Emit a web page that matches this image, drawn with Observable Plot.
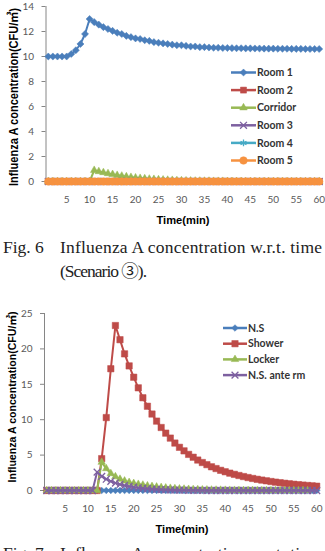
<!DOCTYPE html>
<html>
<head>
<meta charset="utf-8">
<script src="https://cdn.jsdelivr.net/npm/d3@7"></script>
<script src="https://cdn.jsdelivr.net/npm/@observablehq/plot@0.6"></script>
<style>
  html, body { margin: 0; padding: 0; background: #fff; }
  body { width: 325px; height: 551px; overflow: hidden; position: relative; }
  .panel { position: absolute; left: 0; display: block; }
</style>
</head>
<body>
<div id="fig6" class="panel" style="top:0px"></div>
<svg id="cap6" class="panel" style="top:232px" width="325" height="56"></svg>
<div id="fig7" class="panel" style="top:290px"></div>
<svg id="cap7" class="panel" style="top:540px" width="325" height="30"></svg>
<script>
// Time axis categories (minutes) and tick labels
const minutes = [1,2,3,4,5,6,7,8,9,10,11,12,13,14,15,16,17,18,19,20,
  21,22,23,24,25,26,27,28,29,30,31,32,33,34,35,36,37,38,39,40,
  41,42,43,44,45,46,47,48,49,50,51,52,53,54,55,56,57,58,59,60];
const timeTicks = [5,10,15,20,25,30,35,40,45,50,55,60];

// Fig. 6 — Scenario 3 concentrations (CFU/m3)
const fig6Ticks = [0,2,4,6,8,10,12,14];
const room1 = [10.0,10.0,10.0,10.0,10.0,10.2,10.5,11.0,11.8,13.0,
  12.75,12.55,12.35,12.2,12.05,11.9,11.8,11.65,11.55,11.45,
  11.4,11.3,11.25,11.15,11.1,11.05,11.0,10.95,10.9,10.9,
  10.85,10.8,10.8,10.75,10.75,10.72,10.7,10.7,10.68,10.68,
  10.67,10.66,10.66,10.65,10.65,10.64,10.64,10.63,10.63,10.63,
  10.62,10.62,10.62,10.61,10.61,10.61,10.6,10.6,10.6,10.6];
const room2 = [0,0,0,0,0,0,0,0,0,0,0,0,0,0,0,0,0,0,0,0,
  0,0,0,0,0,0,0,0,0,0,0,0,0,0,0,0,0,0,0,0,0,0,0,0,0,0,0,0,0,0,0,0,0,0,0,0,0,0,0,0];
const corridor = [0,0,0,0,0,0,0,0,0,0,
  0.9,0.8,0.72,0.64,0.57,0.5,0.44,0.39,0.34,0.3,
  0.26,0.23,0.2,0.18,0.15,0.13,0.11,0.1,0.08,0.07,
  0.06,0.05,0.04,0.04,0.03,0.03,0.02,0.02,0.02,0.01,
  0.01,0.01,0.01,0,0,0,0,0,0,0,0,0,0,0,0,0,0,0,0,0];
const room3 = [0,0,0,0,0,0,0,0,0,0,0,0,0,0,0,0,0,0,0,0,
  0,0,0,0,0,0,0,0,0,0,0,0,0,0,0,0,0,0,0,0,0,0,0,0,0,0,0,0,0,0,0,0,0,0,0,0,0,0,0,0];
const room4 = [0,0,0,0,0,0,0,0,0,0,0,0,0,0,0,0,0,0,0,0,
  0,0,0,0,0,0,0,0,0,0,0,0,0,0,0,0,0,0,0,0,0,0,0,0,0,0,0,0,0,0,0,0,0,0,0,0,0,0,0,0];
const room5 = [0,0,0,0,0,0,0,0,0,0,0,0,0,0,0,0,0,0,0,0,
  0,0,0,0,0,0,0,0,0,0,0,0,0,0,0,0,0,0,0,0,0,0,0,0,0,0,0,0,0,0,0,0,0,0,0,0,0,0,0,0];
const fig6Names = ["Room 1","Room 2","Corridor","Room 3","Room 4","Room 5"];

// Fig. 7 — shower area concentrations (CFU/m3)
const fig7Ticks = [0,5,10,15,20,25];
const ns = [0,0,0,0,0,0,0,0,0,0,0,0,0,0,0,0,0,0,0,0,
  0,0,0,0,0,0,0,0,0,0,0,0,0,0,0,0,0,0,0,0,0,0,0,0,0,0,0,0,0,0,0,0,0,0,0,0,0,0,0,0];
const shower = [0,0,0,0,0,0,0,0,0,0,0,0,
  4.5,10.3,17.2,23.3,21.3,19.3,17.6,16.0,14.5,13.1,
  11.9,10.8,9.8,8.9,8.1,7.4,6.7,6.1,5.6,5.1,
  4.7,4.3,3.95,3.65,3.35,3.1,2.85,2.65,2.45,2.28,
  2.12,1.97,1.83,1.7,1.58,1.47,1.37,1.27,1.18,1.1,
  1.02,0.95,0.88,0.82,0.76,0.71,0.66,0.61];
const locker = [0,0,0,0,0,0,0,0,0,0,0,0,
  4.0,3.1,2.4,1.95,1.6,1.35,1.15,1.0,0.88,0.77,
  0.67,0.58,0.5,0.43,0.37,0.32,0.27,0.23,0.2,0.17,
  0.14,0.12,0.1,0.08,0.07,0.06,0.05,0.04,0.03,0.03,
  0.02,0.02,0.01,0.01,0,0,0,0,0,0,0,0,0,0,0,0];
const nsAnte = [0,0,0,0,0,0,0,0,0,0,0,
  2.6,2.0,1.6,1.3,1.05,0.85,0.7,0.57,0.47,0.38,
  0.31,0.25,0.2,0.16,0.13,0.1,0.08,0.06,0.05,0.04,
  0.03,0.02,0.02,0.01,0,0,0,0,0,0,0,0,0,0,0,
  0,0,0,0,0,0,0,0,0,0,0,0,0,0];
const fig7Names = ["N.S","Shower","Locker","N.S. ante rm"];

// Office-style palette and markers
const palette = {
  blue: "#4A7EBB", red: "#BE4B48", green: "#98B954",
  purple: "#7D60A0", aqua: "#46AAC5", orange: "#F69240"
};
const axisGray = "#868686";
const labelGray = "#595959";

const symbolTypes = {
  diamond2: d3.symbolDiamond2, square: d3.symbolSquare, triangle: d3.symbolTriangle,
  times: d3.symbolTimes, asterisk: d3.symbolAsterisk, circle: d3.symbolCircle
};
const strokeOnly = new Set(["times", "asterisk"]);

function rows(values) {
  return values.map((v, i) => ({t: minutes[i], v}));
}

function drawChart(cfg) {
  const marks = [
    Plot.ruleY([0], {stroke: axisGray}),
    Plot.ruleX([0.5], {stroke: axisGray}),
    Plot.axisY(cfg.yTicks, {tickSize: 4, tickPadding: 8, fontSize: 10, stroke: axisGray, fill: labelGray, label: null}),
    Plot.axisX(timeTicks, {tickSize: 0, tickPadding: 14, fontSize: 10, fill: labelGray, label: null})
  ];
  for (const s of cfg.series) {
    const data = rows(s.values);
    marks.push(Plot.line(data, {x: "t", y: "v", stroke: s.color, strokeWidth: 2}));
    marks.push(Plot.dot(data, {
      x: "t", y: "v", symbol: s.symbol, r: s.r,
      fill: strokeOnly.has(s.symbol) ? "none" : s.color,
      stroke: s.color, strokeWidth: strokeOnly.has(s.symbol) ? 1.3 : 0.5
    }));
  }
  const svg = Plot.plot({
    width: 325,
    height: cfg.height,
    marginTop: cfg.marginTop,
    marginBottom: cfg.marginBottom,
    marginLeft: cfg.marginLeft,
    marginRight: cfg.marginRight,
    style: {fontFamily: "Lato, 'Open Sans', sans-serif", background: "#fff", overflow: "visible"},
    x: {domain: [0.5, 60.5]},
    y: {domain: cfg.yDomain},
    marks
  });
  const sel = d3.select(svg);

  // rotated y-axis title
  sel.append("text")
    .attr("transform", `translate(${cfg.yTitle.x},${cfg.yTitle.y}) rotate(-90)`)
    .attr("text-anchor", "middle")
    .attr("font-family", "'Liberation Sans', Arial, 'Noto Sans CJK KR', sans-serif")
    .attr("font-weight", "bold")
    .attr("font-size", cfg.yTitle.size)
    .attr("fill", "#000")
    .attr("textLength", cfg.yTitle.length)
    .attr("lengthAdjust", "spacingAndGlyphs")
    .text("Influenza A concentration(CFU/㎥)");

  // x-axis title
  sel.append("text")
    .attr("x", cfg.xTitle.x).attr("y", cfg.xTitle.y)
    .attr("text-anchor", "middle")
    .attr("font-family", "'Liberation Sans', Arial, sans-serif")
    .attr("font-weight", "bold")
    .attr("font-size", 10.5)
    .attr("fill", "#000")
    .attr("textLength", 53)
    .attr("lengthAdjust", "spacingAndGlyphs")
    .text("Time(min)");

  // legend
  const lg = cfg.legend;
  cfg.series.forEach((s, i) => {
    const y = lg.y + i * lg.step;
    const g = sel.append("g");
    g.append("line").attr("x1", lg.x).attr("x2", lg.x + lg.len)
      .attr("y1", y).attr("y2", y).attr("stroke", s.color).attr("stroke-width", 2.5);
    g.append("path")
      .attr("transform", `translate(${lg.x + lg.len / 2},${y})`)
      .attr("d", d3.symbol(symbolTypes[s.symbol], Math.PI * s.r * s.r)())
      .attr("fill", strokeOnly.has(s.symbol) ? "none" : s.color)
      .attr("stroke", s.color)
      .attr("stroke-width", strokeOnly.has(s.symbol) ? 1.3 : 0.5);
    g.append("text").attr("x", lg.x + lg.len + 1).attr("y", y + 3.6)
      .attr("text-anchor", "start")
      .attr("font-family", "Lato, 'Open Sans', sans-serif")
      .attr("font-weight", "bold").attr("font-size", 10.5).attr("fill", "#333")
      .text(s.name);
  });
  document.getElementById(cfg.target).appendChild(svg);
}

drawChart({
  target: "fig6",
  height: 232, marginTop: 6, marginBottom: 51, marginLeft: 45.5, marginRight: 4,
  yDomain: [0, 14], yTicks: fig6Ticks,
  yTitle: {x: 18, y: 97, size: 12, length: 178},
  xTitle: {x: 183, y: 224},
  legend: {x: 231, y: 72.5, step: 17.6, len: 25},
  series: [
    {name: fig6Names[0], values: room1, color: palette.blue, symbol: "diamond2", r: 3.2},
    {name: fig6Names[1], values: room2, color: palette.red, symbol: "square", r: 3.4},
    {name: fig6Names[2], values: corridor, color: palette.green, symbol: "triangle", r: 2.8},
    {name: fig6Names[3], values: room3, color: palette.purple, symbol: "times", r: 3.2},
    {name: fig6Names[4], values: room4, color: palette.aqua, symbol: "asterisk", r: 3.2},
    {name: fig6Names[5], values: room5, color: palette.orange, symbol: "circle", r: 3.8}
  ]
});

drawChart({
  target: "fig7",
  height: 250, marginTop: 23, marginBottom: 50, marginLeft: 44, marginRight: 6.5,
  yDomain: [0, 25], yTicks: fig7Ticks,
  yTitle: {x: 15.5, y: 107, size: 11.5, length: 171},
  xTitle: {x: 182, y: 243},
  legend: {x: 223, y: 38, step: 15.7, len: 24},
  series: [
    {name: fig7Names[0], values: ns, color: palette.blue, symbol: "diamond2", r: 3.0},
    {name: fig7Names[1], values: shower, color: palette.red, symbol: "square", r: 3.6},
    {name: fig7Names[2], values: locker, color: palette.green, symbol: "triangle", r: 2.8},
    {name: fig7Names[3], values: nsAnte, color: palette.purple, symbol: "times", r: 3.2}
  ]
});

// figure captions
function caption(id, num, rest, baseline) {
  const s = d3.select("#" + id);
  const font = "'Liberation Serif', 'Times New Roman', 'Noto Sans CJK KR', serif";
  s.append("text").attr("x", 3).attr("y", baseline)
    .attr("font-family", font).attr("font-size", 17.5).attr("fill", "#222")
    .text("Fig. " + num);
  s.append("text").attr("x", 60).attr("y", baseline)
    .attr("font-family", font).attr("font-size", 17.5).attr("fill", "#222")
    .attr("textLength", 262).attr("lengthAdjust", "spacing")
    .text("Influenza A concentration w.r.t. time");
  if (rest) {
    s.append("text").attr("x", 60).attr("y", baseline + 24)
      .attr("font-family", font).attr("font-size", 17.5).attr("fill", "#222")
      .attr("textLength", 87).attr("lengthAdjust", "spacing")
      .text(rest);
  }
}
caption("cap6", 6, "(Scenario ③).", 21);
caption("cap7", 7, null, 18.5);
</script>
</body>
</html>
